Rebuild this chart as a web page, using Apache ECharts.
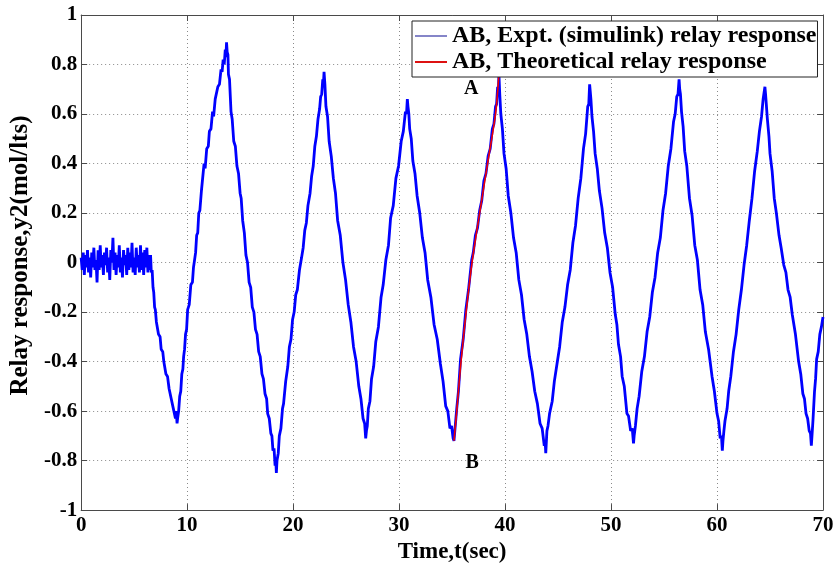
<!DOCTYPE html>
<html>
<head>
<meta charset="utf-8">
<script src="https://cdn.jsdelivr.net/npm/echarts@6/dist/echarts.min.js"></script>
<style>
html,body{margin:0;padding:0;background:#fff;}
#chart{width:838px;height:569px;}
</style>
</head>
<body>
<div id="chart"></div>
<script>
// ---------- DATA ----------
var xTicks = [0, 10, 20, 30, 40, 50, 60, 70];
var yTicks = [-1, -0.8, -0.6, -0.4, -0.2, 0, 0.2, 0.4, 0.6, 0.8, 1];
var seriesNames = ['AB, Expt. (simulink) relay response', 'AB, Theoretical relay response'];

// baseline noise before relay switched on (t, y)
var baselineNoise = [
[0.0,0.02],[0.1,-0.03],[0.2,0.04],[0.3,-0.05],[0.4,0.03],[0.5,-0.02],[0.6,0.05],[0.7,-0.04],[0.8,0.02],[0.9,-0.06],
[1.0,0.04],[1.1,-0.02],[1.2,0.06],[1.3,-0.03],[1.4,0.01],[1.5,-0.08],[1.6,0.05],[1.7,-0.03],[1.8,0.07],[1.9,-0.02],
[2.0,0.03],[2.1,-0.05],[2.2,0.04],[2.3,-0.01],[2.4,0.06],[2.5,-0.04],[2.6,0.02],[2.7,-0.07],[2.8,0.05],[2.9,0.0],
[3.0,0.1],[3.1,-0.03],[3.2,0.04],[3.3,-0.05],[3.4,0.03],[3.5,-0.02],[3.6,0.07],[3.7,-0.04],[3.8,0.02],[3.9,-0.06],
[4.0,0.05],[4.1,-0.01],[4.2,0.03],[4.3,-0.05],[4.4,0.06],[4.5,-0.03],[4.6,0.04],[4.7,-0.02],[4.8,0.08],[4.9,-0.04],
[5.0,0.02],[5.1,-0.05],[5.2,0.06],[5.3,-0.02],[5.4,0.03],[5.5,-0.04],[5.6,0.07],[5.7,-0.03],[5.8,0.04],[5.9,-0.05],
[6.0,0.05],[6.1,-0.02],[6.2,0.06],[6.3,-0.04],[6.4,0.03],[6.5,-0.03]
];

// relay oscillation (t, y)
var relayOscillation = [
[6.55,0.03],[6.62,-0.04],[6.7,-0.03],[6.78,-0.1],[6.85,-0.12],[6.93,-0.18],[7.0,-0.19],[7.1,-0.24],[7.2,-0.24],[7.3,-0.29],[7.45,-0.3],[7.55,-0.35],[7.7,-0.36],[7.8,-0.4],[7.9,-0.4],[8.0,-0.45],[8.15,-0.46],[8.3,-0.51],[8.4,-0.51],[8.5,-0.55],[8.6,-0.55],[8.7,-0.59],[8.8,-0.59],[8.9,-0.63],[8.97,-0.6],[9.05,-0.65],[9.1,-0.63],
[9.2,-0.6],[9.3,-0.54],[9.4,-0.52],[9.5,-0.45],[9.6,-0.43],[9.67,-0.38],[9.76,-0.35],[9.85,-0.29],[9.95,-0.27],[10.05,-0.19],[10.2,-0.17],[10.35,-0.09],[10.5,-0.08],[10.6,-0.02],[10.7,0.01],[10.8,0.04],[10.9,0.11],[11.0,0.12],[11.1,0.2],[11.2,0.21],[11.35,0.29],[11.45,0.29],[11.6,0.4],[11.7,0.38],[11.85,0.46],[12.0,0.47],[12.1,0.53],[12.25,0.54],[12.4,0.61],[12.5,0.59],[12.65,0.66],[12.8,0.66],[12.9,0.71],[13.05,0.72],[13.2,0.78],[13.3,0.77],[13.4,0.82],[13.5,0.8],[13.6,0.86],[13.66,0.83],[13.72,0.89],[13.78,0.85],
[13.85,0.84],[13.9,0.76],[14.0,0.74],[14.14,0.61],[14.25,0.58],[14.4,0.49],[14.55,0.47],[14.7,0.39],[14.85,0.36],[15.0,0.28],[15.1,0.26],[15.24,0.17],[15.4,0.12],[15.55,0.03],[15.7,0.0],[15.85,-0.08],[16.0,-0.1],[16.15,-0.18],[16.3,-0.2],[16.45,-0.27],[16.6,-0.29],[16.75,-0.36],[16.9,-0.38],[17.06,-0.45],[17.2,-0.47],[17.35,-0.53],[17.5,-0.55],[17.6,-0.61],[17.75,-0.63],[17.9,-0.69],[18.0,-0.7],[18.1,-0.76],[18.2,-0.75],[18.3,-0.82],[18.36,-0.79],[18.42,-0.85],[18.48,-0.8],
[18.6,-0.77],[18.7,-0.7],[18.85,-0.67],[19.0,-0.59],[19.1,-0.57],[19.3,-0.48],[19.5,-0.42],[19.65,-0.34],[19.8,-0.31],[19.95,-0.23],[20.1,-0.2],[20.25,-0.13],[20.4,-0.11],[20.6,-0.03],[20.8,0.02],[20.95,0.06],[21.1,0.13],[21.25,0.16],[21.4,0.23],[21.6,0.28],[21.75,0.35],[21.9,0.39],[22.05,0.47],[22.2,0.51],[22.35,0.58],[22.5,0.62],[22.6,0.67],[22.7,0.68],[22.8,0.74],[22.86,0.72],[22.92,0.77],
[23.0,0.72],[23.1,0.63],[23.25,0.59],[23.4,0.49],[23.6,0.43],[23.8,0.34],[24.0,0.28],[24.2,0.17],[24.45,0.11],[24.7,0.0],[24.95,-0.07],[25.2,-0.17],[25.45,-0.24],[25.7,-0.34],[25.95,-0.4],[26.2,-0.5],[26.4,-0.55],[26.6,-0.63],[26.75,-0.65],[26.85,-0.71],[26.92,-0.68],
[27.0,-0.66],[27.1,-0.59],[27.25,-0.56],[27.4,-0.47],[27.6,-0.42],[27.8,-0.32],[28.05,-0.26],[28.3,-0.14],[28.5,-0.09],[28.75,0.01],[29.0,0.07],[29.2,0.18],[29.45,0.23],[29.7,0.34],[29.95,0.39],[30.2,0.49],[30.4,0.53],[30.6,0.61],[30.7,0.6],[30.78,0.66],[30.84,0.63],
[30.92,0.6],[31.0,0.54],[31.15,0.5],[31.3,0.41],[31.5,0.36],[31.7,0.27],[31.95,0.2],[32.2,0.1],[32.45,0.04],[32.7,-0.07],[33.0,-0.14],[33.3,-0.25],[33.6,-0.31],[33.9,-0.41],[34.15,-0.48],[34.4,-0.58],[34.6,-0.6],[34.8,-0.67],[34.95,-0.66],[35.1,-0.71],[35.18,-0.72],
[35.3,-0.66],[35.44,-0.59],[35.6,-0.52],[35.8,-0.39],[36.05,-0.31],[36.3,-0.19],[36.55,-0.11],[36.85,0.01],[37.0,0.04],[37.2,0.11],[37.4,0.14],[37.6,0.21],[37.8,0.25],[38.0,0.33],[38.2,0.36],[38.4,0.43],[38.6,0.46],[38.8,0.54],[38.95,0.56],[39.1,0.63],[39.2,0.64],[39.3,0.71],[39.38,0.7],[39.42,0.76],
[39.5,0.68],[39.6,0.6],[39.75,0.54],[39.9,0.44],[40.1,0.38],[40.3,0.27],[40.55,0.2],[40.8,0.1],[41.05,0.04],[41.3,-0.07],[41.55,-0.13],[41.8,-0.23],[42.05,-0.29],[42.3,-0.38],[42.55,-0.44],[42.8,-0.52],[43.05,-0.57],[43.3,-0.65],[43.5,-0.67],[43.7,-0.74],[43.78,-0.72],[43.84,-0.77],
[43.95,-0.68],[44.05,-0.66],[44.2,-0.61],[44.45,-0.56],[44.65,-0.48],[44.9,-0.41],[45.15,-0.34],[45.4,-0.24],[45.65,-0.18],[45.9,-0.09],[46.15,-0.03],[46.4,0.08],[46.65,0.15],[46.9,0.26],[47.15,0.34],[47.4,0.46],[47.6,0.52],[47.8,0.63],[47.9,0.64],[47.98,0.72],[48.04,0.69],
[48.1,0.66],[48.2,0.59],[48.35,0.53],[48.5,0.44],[48.7,0.38],[48.9,0.29],[49.15,0.22],[49.4,0.12],[49.65,0.06],[49.9,-0.04],[50.15,-0.1],[50.4,-0.21],[50.55,-0.25],[50.7,-0.33],[50.9,-0.38],[51.05,-0.46],[51.25,-0.5],[51.5,-0.61],[51.65,-0.62],[51.85,-0.68],[52.0,-0.67],[52.12,-0.73],[52.18,-0.7],
[52.3,-0.66],[52.46,-0.59],[52.65,-0.54],[52.9,-0.44],[53.15,-0.38],[53.4,-0.28],[53.65,-0.22],[53.9,-0.12],[54.15,-0.06],[54.4,0.04],[54.65,0.1],[54.9,0.21],[55.15,0.28],[55.4,0.39],[55.65,0.46],[55.9,0.57],[56.05,0.6],[56.2,0.67],[56.32,0.68],[56.42,0.74],[56.48,0.7],
[56.55,0.68],[56.65,0.61],[56.8,0.55],[56.95,0.45],[57.15,0.39],[57.4,0.26],[57.65,0.19],[57.9,0.07],[58.15,0.01],[58.4,-0.11],[58.65,-0.17],[58.9,-0.28],[59.2,-0.35],[59.53,-0.46],[59.75,-0.52],[60.0,-0.61],[60.15,-0.64],[60.3,-0.71],[60.42,-0.7],[60.5,-0.76],[60.56,-0.72],
[60.65,-0.68],[60.75,-0.64],[60.95,-0.59],[61.1,-0.52],[61.3,-0.46],[61.55,-0.36],[61.8,-0.29],[62.05,-0.19],[62.3,-0.11],[62.55,-0.01],[62.8,0.07],[63.05,0.17],[63.3,0.26],[63.55,0.37],[63.8,0.45],[64.0,0.53],[64.2,0.59],[64.35,0.66],[64.45,0.66],[64.52,0.71],[64.58,0.68],
[64.65,0.64],[64.75,0.58],[64.9,0.51],[65.0,0.44],[65.2,0.37],[65.4,0.26],[65.6,0.2],[65.85,0.11],[66.05,0.06],[66.3,-0.01],[66.5,-0.04],[66.7,-0.11],[66.9,-0.14],[67.1,-0.21],[67.4,-0.29],[67.7,-0.4],[67.9,-0.45],[68.1,-0.53],[68.25,-0.55],[68.4,-0.61],[68.55,-0.63],[68.7,-0.68],[68.82,-0.69],[68.9,-0.74],[68.96,-0.7],
[69.05,-0.64],[69.1,-0.6],[69.2,-0.52],[69.3,-0.47],[69.4,-0.39],[69.55,-0.36],[69.7,-0.29],[69.85,-0.26],[70.0,-0.22]
];

// theoretical relay response, from B to A (t, y)
var theoreticalResponse = [
[35.18,-0.72],[35.44,-0.6],[35.8,-0.42],[36.3,-0.21],[36.85,-0.01],[37.6,0.2],[38.35,0.4],[39.1,0.6],[39.4,0.75]
];

// point annotations
var annotationLabels = ['A', 'B'];
var annotationPoints = [[36.8, 0.70], [36.9, -0.809]];

// ---------- CHART ----------
var FONT = '"Liberation Serif", "Times New Roman", serif';
var AXIS_COLOR = '#4a4a4a';
var chart = echarts.init(document.getElementById('chart'), null, {renderer: 'canvas'});

var exptData = baselineNoise.concat(relayOscillation);

function fmt(v) { return String(parseFloat(Number(v).toFixed(1))); }

var option = {
  backgroundColor: '#ffffff',
  animation: false,
  grid: {left: 80, right: 15, top: 15, bottom: 52, containLabel: false},
  legend: {
    orient: 'vertical',
    left: 412,
    top: 21,
    padding: [2, 1, 2, 3],
    itemGap: 0,
    itemWidth: 32,
    itemHeight: 2,
    icon: 'rect',
    backgroundColor: '#ffffff',
    borderColor: '#222',
    borderWidth: 1,
    borderRadius: 0,
    textStyle: {fontFamily: FONT, fontWeight: 'bold', fontSize: 24, color: '#000', lineHeight: 26},
    data: [
      {name: seriesNames[0], itemStyle: {color: '#8585c8'}, lineStyle: {color: '#8585c8', width: 1.5}},
      {name: seriesNames[1], itemStyle: {color: '#dd1111'}, lineStyle: {color: '#dd1111', width: 1.5}}
    ]
  },
  xAxis: [
    {
      type: 'value', min: xTicks[0], max: xTicks[xTicks.length - 1], interval: xTicks[1] - xTicks[0],
      position: 'bottom',
      name: 'Time,t(sec)', nameLocation: 'middle', nameGap: 20,
      nameTextStyle: {fontFamily: FONT, fontWeight: 'bold', fontSize: 23, color: '#000'},
      axisLine: {show: true, onZero: false, lineStyle: {color: AXIS_COLOR, width: 1}},
      axisTick: {show: true, inside: true, length: 6, lineStyle: {color: AXIS_COLOR}},
      axisLabel: {show: true, margin: 5, fontFamily: FONT, fontWeight: 'bold', fontSize: 21, color: '#000',
                  formatter: function (v) { return fmt(v); }},
      splitLine: {show: true, lineStyle: {color: '#8a8a8a', type: [1, 3], width: 1}}
    },
    {
      type: 'value', min: xTicks[0], max: xTicks[xTicks.length - 1], interval: xTicks[1] - xTicks[0],
      position: 'top',
      axisLine: {show: true, onZero: false, lineStyle: {color: AXIS_COLOR, width: 1}},
      axisTick: {show: true, inside: true, length: 6, lineStyle: {color: AXIS_COLOR}},
      axisLabel: {show: false},
      splitLine: {show: false}
    }
  ],
  yAxis: [
    {
      type: 'value', min: yTicks[0], max: yTicks[yTicks.length - 1], interval: 0.2,
      position: 'left',
      name: 'Relay response,y2(mol/lts)', nameLocation: 'middle', nameGap: 47, nameRotate: 90,
      nameTextStyle: {fontFamily: FONT, fontWeight: 'bold', fontSize: 25, color: '#000', padding: [0, 0, 0, 14]},
      axisLine: {show: true, onZero: false, lineStyle: {color: AXIS_COLOR, width: 1}},
      axisTick: {show: true, inside: true, length: 6, lineStyle: {color: AXIS_COLOR}},
      axisLabel: {show: true, margin: 4, fontFamily: FONT, fontWeight: 'bold', fontSize: 21, color: '#000',
                  formatter: function (v) { return fmt(v); }},
      splitLine: {show: true, lineStyle: {color: '#8a8a8a', type: [1, 3], width: 1}}
    },
    {
      type: 'value', min: yTicks[0], max: yTicks[yTicks.length - 1], interval: 0.2,
      position: 'right',
      axisLine: {show: true, onZero: false, lineStyle: {color: AXIS_COLOR, width: 1}},
      axisTick: {show: true, inside: true, length: 6, lineStyle: {color: AXIS_COLOR}},
      axisLabel: {show: false},
      splitLine: {show: false}
    }
  ],
  series: [
    {
      name: seriesNames[0],
      type: 'line',
      xAxisIndex: 0, yAxisIndex: 0,
      data: exptData,
      symbol: 'none',
      showSymbol: false,
      lineStyle: {color: '#0000ff', width: 2.8},
      itemStyle: {color: '#0000ff'},
      z: 2
    },
    {
      name: seriesNames[1],
      type: 'line',
      xAxisIndex: 0, yAxisIndex: 0,
      data: theoreticalResponse,
      smooth: 0.3,
      symbol: 'none',
      showSymbol: false,
      lineStyle: {color: '#ee0000', width: 1.6},
      itemStyle: {color: '#ee0000'},
      z: 3
    },
    {
      name: 'labels',
      type: 'scatter',
      xAxisIndex: 0, yAxisIndex: 0,
      symbolSize: 0,
      itemStyle: {opacity: 1},
      data: annotationPoints.map(function (p, i) { return {value: p, name: annotationLabels[i]}; }),
      label: {
        show: true, position: 'inside', opacity: 1,
        formatter: function (p) { return p.name; },
        fontFamily: FONT, fontWeight: 'bold', fontSize: 20, color: '#000'
      },
      z: 4
    }
  ]
};
chart.setOption(option);
</script>
</body>
</html>
